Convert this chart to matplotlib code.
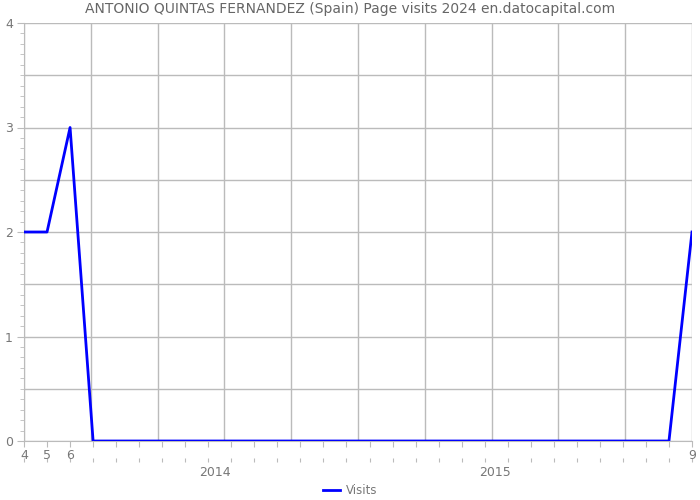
import matplotlib
matplotlib.use("Agg")
import matplotlib.pyplot as plt
import matplotlib.transforms as mtransforms
import numpy as np

# Monthly visits, April 2013 .. September 2015
months = list(range(30))
visits = [2, 2, 3] + [0] * 26 + [2]
month_labels = {0: "4", 1: "5", 2: "6", 29: "9"}
year_labels = ["2014", "2015"]
year_pos = [8.3, 20.45]

fig = plt.figure(figsize=(7, 5), dpi=100)
ax = fig.add_axes([24 / 700, 1 - 441 / 500, 668 / 700, 418 / 500])

grid_c = "#bbbbbb"
text_c = "#777777"

for yv in np.arange(0, 4.01, 0.5):
    ax.axhline(yv, color=grid_c, lw=1, zorder=0)
for xv in np.linspace(0, 29, 11):
    ax.axvline(xv, color=grid_c, lw=1, zorder=0)

ax.plot(months, visits, color="#0000ff", lw=2, label="Visits", zorder=3)

ax.set_xlim(0, 29)
ax.set_ylim(0, 4)
for s in ["top", "right"]:
    ax.spines[s].set_visible(False)
for s in ["left", "bottom"]:
    ax.spines[s].set_color(grid_c)

ax.set_yticks([0, 1, 2, 3, 4])
ax.set_yticklabels(["0", "1", "2", "3", "4"])
ax.set_yticks(np.arange(0, 4.01, 0.1), minor=True)
ax.tick_params(axis="y", which="major", length=5, color=grid_c, labelcolor=text_c, labelsize=9, pad=3)
ax.tick_params(axis="y", which="minor", length=3, color=grid_c)

ax.set_xticks(months)
ax.set_xticklabels([month_labels.get(m, "") for m in months])
ax.tick_params(axis="x", which="major", length=4, color=grid_c, labelcolor=text_c, labelsize=9, pad=2)

# second row: month ticks and year labels
sec = ax.secondary_xaxis(-0.04)
sec.set_xticks(months)
sec.set_xticklabels([""] * len(months))
sec.tick_params(length=3, color=grid_c)
sec.spines["bottom"].set_visible(False)
trans = mtransforms.blended_transform_factory(ax.transData, ax.transAxes)
for lab, xp in zip(year_labels, year_pos):
    ax.text(xp, -0.06, lab, transform=trans, ha="center", va="top", color=text_c, fontsize=9)

fig.suptitle("ANTONIO QUINTAS FERNANDEZ (Spain) Page visits 2024 en.datocapital.com",
             y=0.995, color="#666666", fontsize=10)

fig.legend(loc="lower center", bbox_to_anchor=(0.5, -0.016), frameon=False, fontsize=8.5,
           labelcolor=text_c, handlelength=1.4, handletextpad=0.5)

fig.savefig("out.png", dpi=100)
